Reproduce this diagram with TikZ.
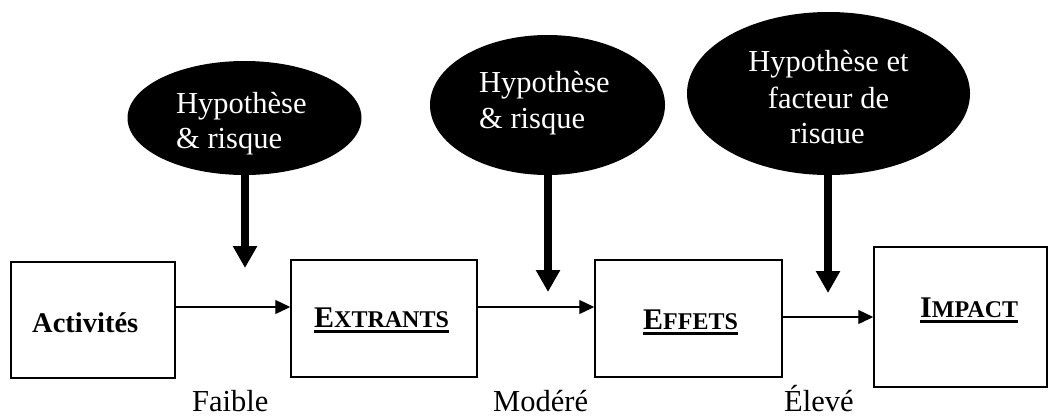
\documentclass[tikz,border=0pt]{standalone}
\usepackage{fontspec}
\setmainfont{Liberation Serif}
\usetikzlibrary{arrows.meta,shapes.geometric}
\newcommand\fakesc[2]{{\fontsize{30}{30}\selectfont #1}{\fontsize{24}{24}\selectfont #2}}
\begin{document}
\begin{tikzpicture}[x=1pt,y=-1pt,
  stagebox/.style={draw,line width=1.5pt,inner sep=0pt,rectangle},
  blob/.style={ellipse,fill=black,draw=none,inner sep=0pt},
  txt/.style={inner sep=0pt,anchor=base west,font=\fontsize{30.5}{36}\selectfont},
  wtxt/.style={txt,text=white},
  btxt/.style={inner sep=0pt,anchor=base west,font=\bfseries},
  thinarrow/.style={line width=1.3pt,-{Triangle[width=14pt,length=15pt]}},
  bigarrow/.style={line width=8pt,-{Triangle[width=23pt,length=22pt]}},
  uline/.style={line width=3pt}]
\useasboundingbox (0,0) rectangle (1048,416);

% boxes
\node[stagebox,minimum width=164pt,minimum height=116pt] (act) at (93,320) {};
\node[stagebox,minimum width=186pt,minimum height=117pt] (ext) at (384,318.5) {};
\node[stagebox,minimum width=187pt,minimum height=117pt] (eff) at (688.5,318.5) {};
\node[stagebox,minimum width=173pt,minimum height=140pt] (imp) at (960.5,317) {};

% box texts
\node[btxt,font=\bfseries\fontsize{28.5}{30}\selectfont] (tact) at (32,332) {Activités};
\node[btxt] (text) at (314,327) {\fakesc{E}{XTRANTS}};
\node[btxt] (teff) at (643,329) {\fakesc{E}{FFETS}};
\node[btxt] (timp) at (920,317) {\fakesc{I}{MPACT}};
\draw[uline] ([yshift=-4.5pt]text.base west) -- ([yshift=-4.5pt]text.base east);
\draw[uline] ([yshift=-4.5pt]teff.base west) -- ([yshift=-4.5pt]teff.base east);
\draw[uline] ([yshift=-4.5pt]timp.base west) -- ([yshift=-4.5pt]timp.base east);

% ellipses
\node[blob,minimum width=234pt,minimum height=114pt] (h1) at (244.5,118) {};
\node[blob,minimum width=235pt,minimum height=140pt] (h2) at (547.5,105) {};
\node[blob,minimum width=283pt,minimum height=163pt] (h3) at (828.5,93.5) {};

\node[wtxt] (h1a) at (176,113) {Hypothèse};
\node[wtxt] (h1b) at (176,148) {\& risque};
\node[wtxt] (h2a) at (479,92) {Hypothèse};
\node[wtxt] (h2b) at (479,128) {\& risque};
\node[wtxt,anchor=base] (h3a) at (828.5,71) {Hypothèse et};
\node[wtxt,anchor=base] (h3b) at (828.5,108) {facteur de};
\begin{scope}
\clip (680,120) rectangle (980,143.5);
\node[wtxt,anchor=base] (h3c) at (827.5,143) {risque};
\end{scope}

% thick arrows
\coordinate (p1) at (245,268);
\coordinate (p2) at (548,292);
\coordinate (p3) at (828,293);
\draw[bigarrow] (h1.south -| p1) -- (p1);
\draw[bigarrow] (h2.south -| p2) -- (p2);
\draw[bigarrow] (h3.south -| p3) -- (p3);

% horizontal arrows
\draw[thinarrow] (act.east |- 0,307) -- (ext.west |- 0,307);
\draw[thinarrow] (ext.east |- 0,307) -- (eff.west |- 0,307);
\draw[thinarrow] (eff.east |- 0,317) -- (imp.west |- 0,317);

% level labels
\node[txt] (l1) at (192,411) {Faible};
\node[txt] (l2) at (493,411) {Modéré};
\node[txt] (l3) at (784,411) {Élevé};
\end{tikzpicture}
\end{document}
